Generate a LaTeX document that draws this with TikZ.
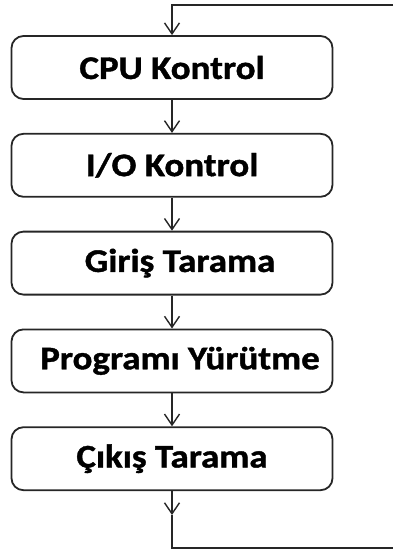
\documentclass[tikz,border=0pt]{standalone}
\usepackage{fontspec}
\setmainfont{Carlito}[FakeStretch=1.12, BoldFeatures={FakeBold=1.2}]
\usetikzlibrary{positioning,arrows.meta}

\tikzset{
  stepbox/.style={draw=black!85, line width=1.8pt, rounded corners=12pt,
    minimum width=321pt, minimum height=63pt, inner sep=0pt,
    font=\fontsize{33}{36}\selectfont\bfseries},
  flow/.style={line width=1.4pt, draw=black!85,
    -{Straight Barb[length=11pt,width=15pt,line width=1.4pt]}}
}

\begin{document}
\begin{tikzpicture}[x=1pt,y=1pt,node distance=33pt]
\useasboundingbox (0,0) rectangle (393,-553);

% the scan cycle
\node[stepbox] (cpu) at (172,-67.5) {CPU Kontrol};
\node[stepbox, below=of cpu] (io) {I/O Kontrol};
\node[stepbox, below=of io] (giris) {\hspace{16pt}Giriş Tarama};
\node[stepbox, below=of giris] (prog) {\hspace{16pt}Programı Yürütme};
\node[stepbox, below=of prog] (cikis) {Çıkış Tarama};

\coordinate (top) at (393,-5);
\coordinate (mid) at (172,-515);
\coordinate (bot) at (393,-548);

\draw[flow] (top) -| (cpu.north);
\draw[flow] (cpu) -- (io);
\draw[flow] (io) -- (giris);
\draw[flow] (giris) -- (prog);
\draw[flow] (prog) -- (cikis);
\draw[flow] (cikis) -- (mid);
\draw[line width=1.4pt, draw=black!85] (mid) |- (bot);
\end{tikzpicture}
\end{document}
